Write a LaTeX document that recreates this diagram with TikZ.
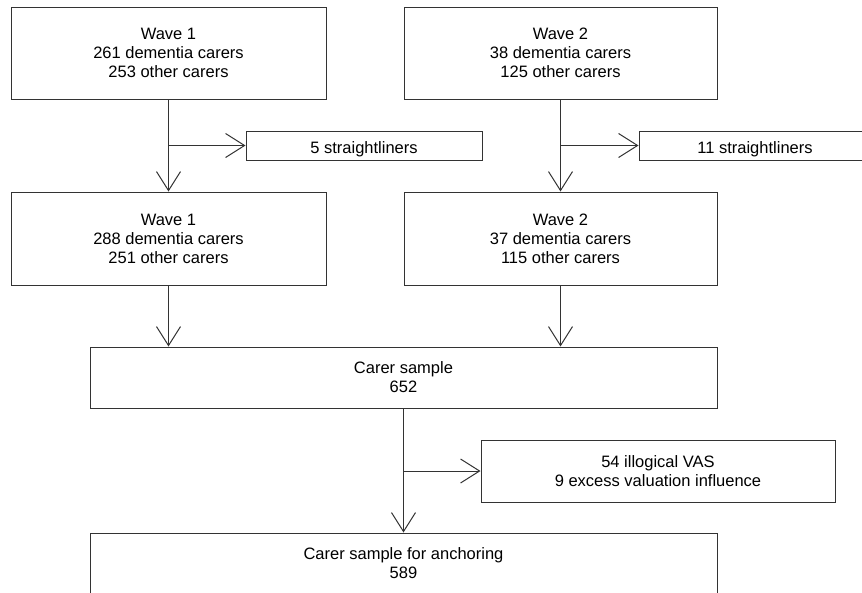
\documentclass[tikz,border=0pt]{standalone}
\usepackage{fontspec}
\setmainfont{Liberation Sans}
\usetikzlibrary{arrows.meta}

\begin{document}
\begin{tikzpicture}[x=1pt,y=-1pt,
  box/.style={draw=black!80, line width=1pt, rectangle, align=center, inner sep=0pt,
    font=\fontsize{16.5}{19}\selectfont, execute at begin node={\rule{0pt}{19.5pt}}},
  arr/.style={draw=black!80, line width=1pt, -{Straight Barb[length=19pt,width=24pt]}}]

\useasboundingbox (0,0) rectangle (862,592);

% Boxes
\node[box, minimum width=315pt, minimum height=92pt] (W1a) at (168.5,53) {Wave 1\\261 dementia carers\\253 other carers};
\node[box, minimum width=313pt, minimum height=92pt] (W2a) at (560.5,53) {Wave 2\\38 dementia carers\\125 other carers};
\node[box, minimum width=236pt, minimum height=29pt] (S1) at (364,145.5) {5 straightliners};
\node[box, minimum width=232pt, minimum height=29pt] (S2) at (755,145.5) {11 straightliners};
\node[box, minimum width=315pt, minimum height=93pt] (W1b) at (168.5,238.5) {Wave 1\\288 dementia carers\\251 other carers};
\node[box, minimum width=313pt, minimum height=93pt] (W2b) at (560.5,238.5) {Wave 2\\37 dementia carers\\115 other carers};
\node[box, minimum width=627pt, minimum height=61pt] (CS) at (403.5,377.5) {Carer sample\\652};
\node[box, minimum width=354pt, minimum height=62pt] (EX) at (658,471) {54 illogical VAS\\9 excess valuation influence};
\node[box, minimum width=627pt, minimum height=61pt] (FS) at (403.5,563.5) {Carer sample for anchoring\\589};

% Arrows
\draw[arr] (W1a.south) -- (W1b.north);
\draw[arr] (W1a.south |- S1.west) -- (S1.west);
\draw[arr] (W2a.south) -- (W2b.north);
\draw[arr] (W2a.south |- S2.west) -- (S2.west);
\draw[arr] (W1b.south) -- (W1b.south |- CS.north);
\draw[arr] (W2b.south) -- (W2b.south |- CS.north);
\draw[arr] (CS.south) -- (FS.north);
\draw[arr] (CS.south |- EX.west) -- (EX.west);

\end{tikzpicture}
\end{document}
